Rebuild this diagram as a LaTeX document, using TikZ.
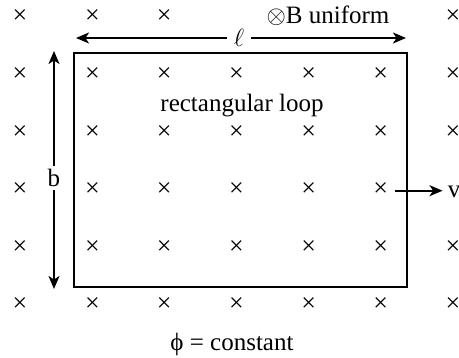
\documentclass[tikz,border=0pt]{standalone}
\usepackage{fontspec}
\setmainfont{Liberation Serif}
\usetikzlibrary{arrows.meta}
\begin{document}
\begin{tikzpicture}[x=1pt,y=-1pt,
  txt/.style={font=\fontsize{25}{30}\selectfont, inner sep=0pt},
  cross/.style={font=\fontsize{26}{30}\selectfont, inner sep=0pt},
  wire/.style={line width=2pt},
  arr/.style={line width=2pt,-{Stealth[length=13pt,width=11pt,inset=3.5pt]}}]
\useasboundingbox (0,0) rectangle (459,358);
% crosses
\foreach \r/\y in {2/74.8,3/132.2,5/247.4,6/305}
  \foreach \c/\x in {1/20,2/92.5,3/164.3,4/236.5,5/308.7,6/380.8,7/453}
    \node[cross] (x\r\c) at (\x,\y) {×};
\foreach \c/\x in {1/20,2/92.5,3/164.3,7/453}
  \node[cross] (x1\c) at (\x,17) {×};
\foreach \c/\x in {1/20,2/92.5,3/164.3,4/236.5,5/308.7,6/380.8}
  \node[cross] (x4\c) at (\x,189.8) {×};
% loop
\node[draw, wire, minimum width=333pt, minimum height=234pt, inner sep=0pt, outer sep=0pt, anchor=north west] (loop) at (73.5,53) {};
% labels
\node[txt] (B) at (328,16) {$\otimes$B uniform};
\node[txt] (rl) at (242,106) {rectangular loop};
\node[txt] (phi) at (232,344) {ϕ = constant};
% l arrow
\node[txt, inner xsep=7pt] (ell) at (239,38) {$\ell$};
\coordinate (lL) at (76,38);
\coordinate (lR) at (406,38);
\draw[arr] (ell.west) -- (lL);
\draw[arr] (ell.east) -- (lR);
% b arrow
\node[txt, inner ysep=3pt] (b) at (54,178) {b};
\coordinate (bT) at (54,51);
\coordinate (bB) at (54,289);
\draw[arr] (b.north) -- (bT);
\draw[arr] (b.south) -- (bB);
% v arrow
\node[txt, inner xsep=5pt] (v) at (454,192) {v};
\coordinate (vs) at (395,190.7);
\draw[arr] (vs) -- (vs -| v.west);
\end{tikzpicture}
\end{document}
